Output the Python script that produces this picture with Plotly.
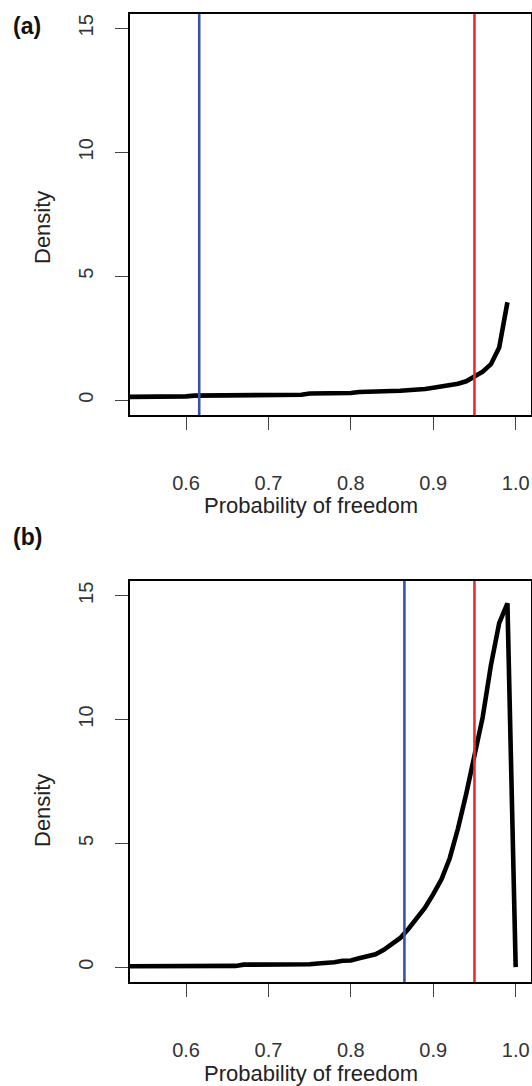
import plotly.graph_objects as go

# ---- data ----
grid_a = [0.50, 0.51, 0.52, 0.53, 0.54, 0.55, 0.56, 0.57, 0.58, 0.59,
          0.60, 0.61, 0.62, 0.63, 0.64, 0.65, 0.66, 0.67, 0.68, 0.69,
          0.70, 0.71, 0.72, 0.73, 0.74, 0.75, 0.76, 0.77, 0.78, 0.79,
          0.80, 0.81, 0.82, 0.83, 0.84, 0.85, 0.86, 0.87, 0.88, 0.89,
          0.90, 0.91, 0.92, 0.93, 0.94, 0.95, 0.96, 0.97, 0.98, 0.99]
density_a = [0.12, 0.12, 0.12, 0.12, 0.12, 0.12, 0.12, 0.12, 0.12, 0.12,
             0.15, 0.18, 0.18, 0.18, 0.18, 0.18, 0.18, 0.18, 0.18, 0.18,
             0.18, 0.18, 0.18, 0.18, 0.22, 0.27, 0.27, 0.27, 0.27, 0.27,
             0.29, 0.33, 0.33, 0.33, 0.34, 0.37, 0.38, 0.39, 0.42, 0.45,
             0.50, 0.55, 0.60, 0.66, 0.76, 0.93, 1.15, 1.45, 2.12, 3.95]
lower_a = 0.616
upper_a = 0.95

grid_b = [0.50, 0.51, 0.52, 0.53, 0.54, 0.55, 0.56, 0.57, 0.58, 0.59,
          0.60, 0.61, 0.62, 0.63, 0.64, 0.65, 0.66, 0.67, 0.68, 0.69,
          0.70, 0.71, 0.72, 0.73, 0.74, 0.75, 0.76, 0.77, 0.78, 0.79,
          0.80, 0.81, 0.82, 0.83, 0.84, 0.85, 0.86, 0.87, 0.88, 0.89,
          0.90, 0.91, 0.92, 0.93, 0.94, 0.95, 0.96, 0.97, 0.98, 0.99, 1.00]
density_b = [0.03, 0.03, 0.03, 0.03, 0.03, 0.03, 0.03, 0.03, 0.03, 0.03,
             0.03, 0.03, 0.05, 0.04, 0.03, 0.02, 0.05, 0.10, 0.10, 0.10,
             0.10, 0.10, 0.10, 0.10, 0.10, 0.12, 0.15, 0.17, 0.20, 0.26,
             0.27, 0.36, 0.42, 0.52, 0.70, 0.92, 1.18, 1.55, 1.98, 2.40,
             2.95, 3.55, 4.40, 5.60, 7.00, 8.50, 10.10, 12.20, 13.90, 14.70, 0.00]
lower_b = 0.865
upper_b = 0.95

x_ticks = [0.6, 0.7, 0.8, 0.9, 1.0]
x_ticktext = ["0.6", "0.7", "0.8", "0.9", "1.0"]
y_ticks = [0, 5, 10, 15]
y_ticktext = ["0", "5", "10", "15"]
x_label = "Probability of freedom"
y_label = "Density"
panel_labels = ["(a)", "(b)"]

# ---- style ----
W, H = 532, 1086
BLUE = "#3853A4"
RED = "#EE2A2E"
TICK_FONT = dict(family="Liberation Sans, Arial, sans-serif", size=20, color="#333")
TITLE_FONT = dict(family="Liberation Sans Narrow, Arial Narrow, Liberation Sans, sans-serif", size=22, color="#222")
PANEL_FONT = dict(family="Liberation Sans Narrow, Arial Narrow, Liberation Sans, sans-serif", size=23, color="#111")

def px_x(p):
    return p / W

def px_y(p):
    return 1 - p / H

fig = go.Figure()

panels = [
    dict(grid=grid_a, dens=density_a, lo=lower_a, hi=upper_a, top=13.5, bottom=415,
         xa="x", ya="y", dens_y=228, title_y=505, label_y=26),
    dict(grid=grid_b, dens=density_b, lo=lower_b, hi=upper_b, top=581, bottom=982,
         xa="x2", ya="y2", dens_y=811, title_y=1073, label_y=537.5),
]

left, right = 130, 530.5
xrange = [0.532, 1.018]
yrange = [-0.6, 15.6]

for i, p in enumerate(panels):
    fig.add_trace(go.Scatter(x=p["grid"], y=p["dens"], mode="lines",
                             line=dict(color="black", width=4.6),
                             xaxis=p["xa"], yaxis=p["ya"], showlegend=False,
                             hoverinfo="skip"))
    fig.add_trace(go.Scatter(x=[p["lo"], p["lo"]], y=yrange, mode="lines",
                             line=dict(color=BLUE, width=2.6),
                             xaxis=p["xa"], yaxis=p["ya"], showlegend=False))
    fig.add_trace(go.Scatter(x=[p["hi"], p["hi"]], y=yrange, mode="lines",
                             line=dict(color=RED, width=2.6),
                             xaxis=p["xa"], yaxis=p["ya"], showlegend=False))
    sfx = "" if i == 0 else "2"
    xdom = [px_x(left), px_x(right)]
    ydom = [px_y(p["bottom"]), px_y(p["top"])]
    fig.layout["xaxis" + sfx] = dict(
        domain=xdom, range=xrange, anchor="y" + sfx,
        tickvals=x_ticks, ticktext=x_ticktext, ticks="outside", ticklen=13,
        tickwidth=1, tickcolor="#444", showline=True, linewidth=2, linecolor="black",
        mirror=True, showgrid=False, zeroline=False, tickfont=TICK_FONT,
        ticklabelstandoff=36, fixedrange=True)
    fig.layout["yaxis" + sfx] = dict(
        domain=ydom, range=yrange, anchor="x" + sfx,
        tickvals=y_ticks, ticktext=y_ticktext, ticks="outside", ticklen=13,
        tickwidth=1, tickcolor="#444", showline=True, linewidth=2, linecolor="black",
        mirror=True, showgrid=False, zeroline=False, tickfont=TICK_FONT,
        tickangle=-90, ticklabelstandoff=14, fixedrange=True)
    fig.add_annotation(text=y_label, x=px_x(42), y=px_y(p["dens_y"]), xref="paper", yref="paper",
                       textangle=-90, showarrow=False, font=TITLE_FONT,
                       xanchor="center", yanchor="middle")
    fig.add_annotation(text=x_label, x=px_x(311), y=px_y(p["title_y"]), xref="paper", yref="paper",
                       showarrow=False, font=TITLE_FONT, xanchor="center", yanchor="middle")
    fig.add_annotation(text="<b>" + panel_labels[i] + "</b>", x=px_x(27), y=px_y(p["label_y"]),
                       xref="paper", yref="paper", showarrow=False, font=PANEL_FONT,
                       xanchor="center", yanchor="middle")

fig.update_layout(width=W, height=H, margin=dict(l=0, r=0, t=0, b=0),
                  paper_bgcolor="white", plot_bgcolor="white", showlegend=False)

fig.write_html("out.html", config={"displayModeBar": False})
